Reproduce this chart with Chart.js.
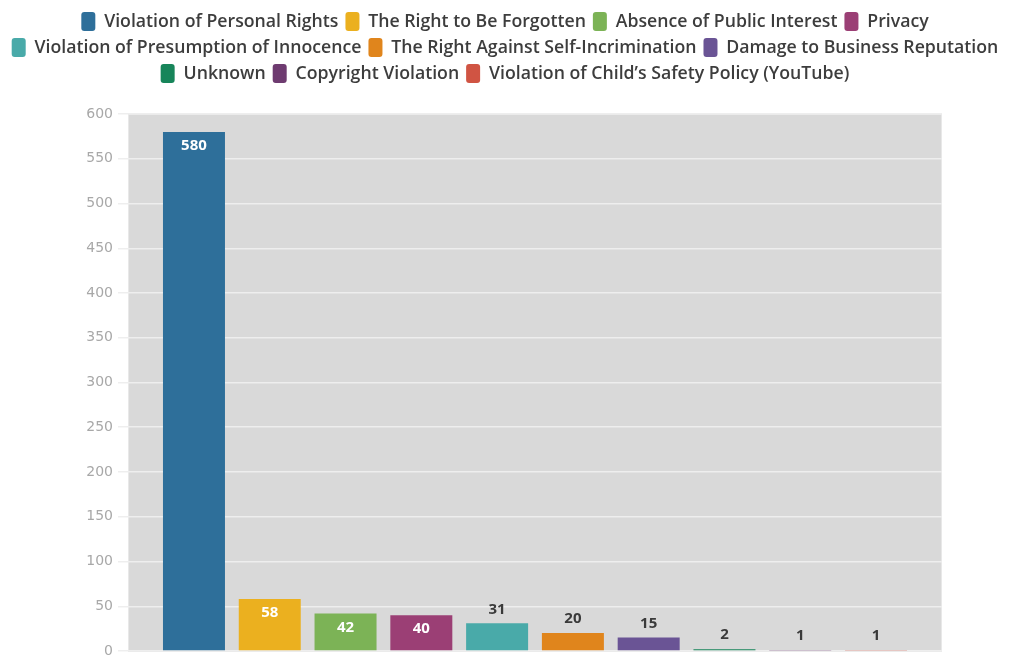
<!DOCTYPE html>
<html>
<head>
<meta charset="utf-8">
<script src="https://cdn.jsdelivr.net/npm/chart.js@4.4.1/dist/chart.umd.min.js"></script>
<style>
html,body{margin:0;padding:0;background:#fff;}
#wrap{width:1010px;height:657px;}
</style>
</head>
<body>
<div id="wrap"><canvas id="c" width="1010" height="657"></canvas></div>
<script>
const categories = [
  "Violation of Personal Rights",
  "The Right to Be Forgotten",
  "Absence of Public Interest",
  "Privacy",
  "Violation of Presumption of Innocence",
  "The Right Against Self-Incrimination",
  "Damage to Business Reputation",
  "Unknown",
  "Copyright Violation",
  "Violation of Child\u2019s Safety Policy (YouTube)"
];
const values = [580, 58, 42, 40, 31, 20, 15, 2, 1, 1];
const colors = ["#2e6f9a", "#ebb01f", "#7cb356", "#9b3f75", "#49aaa9", "#e0851c", "#6a5495", "#17855a", "#6e3b70", "#d05443"];
const yTicks = [0, 50, 100, 150, 200, 250, 300, 350, 400, 450, 500, 550, 600];

const datasets = categories.map((name, i) => ({
  label: name,
  data: [values[i]],
  backgroundColor: colors[i],
  borderWidth: 0,
  categoryPercentage: 0.931,
  barPercentage: 0.818
}));

const legendSpace = {
  id: 'legendSpace',
  beforeInit(chart) {
    const orig = chart.legend.fit;
    chart.legend.fit = function () {
      orig.call(this);
      this.height += 21;
    };
  }
};

const plotBg = {
  id: 'plotBg',
  beforeDraw(chart) {
    const {ctx, chartArea: a} = chart;
    ctx.save();
    ctx.fillStyle = '#d9d9d9';
    ctx.fillRect(a.left, a.top, a.right - a.left, a.bottom - a.top);
    ctx.strokeStyle = '#e8e8e8';
    ctx.lineWidth = 1;
    ctx.strokeRect(a.left + 0.5, a.top + 0.5, a.right - a.left - 1, a.bottom - a.top);
    ctx.restore();
  }
};

const valueLabels = {
  id: 'valueLabels',
  afterDatasetsDraw(chart) {
    const ctx = chart.ctx;
    ctx.save();
    ctx.font = 'bold 15px "Open Sans", Lato, sans-serif';
    ctx.textAlign = 'center';
    ctx.textBaseline = 'middle';
    chart.data.datasets.forEach((ds, i) => {
      const meta = chart.getDatasetMeta(i);
      meta.data.forEach((bar, j) => {
        const v = ds.data[j];
        const h = bar.base - bar.y;
        if (h > 30) {
          ctx.fillStyle = '#ffffff';
          ctx.fillText(String(v), bar.x, bar.y + 14);
        } else {
          ctx.fillStyle = '#3a3a3a';
          ctx.fillText(String(v), bar.x, bar.y - 14);
        }
      });
    });
    ctx.restore();
  }
};

new Chart(document.getElementById('c'), {
  type: 'bar',
  data: { labels: [''], datasets },
  plugins: [legendSpace, plotBg, valueLabels],
  options: {
    responsive: false,
    animation: false,
    layout: { padding: { left: 0, right: 0, top: 5, bottom: 6 } },
    plugins: {
      legend: {
        position: 'top',
        labels: {
          boxWidth: 14,
          boxHeight: 19,
          useBorderRadius: true,
          borderRadius: 3,
          padding: 7,
          color: '#3d3d3d',
          font: { family: '"Open Sans", Lato, sans-serif', size: 17.7, weight: '600' }
        }
      },
      tooltip: { enabled: false }
    },
    scales: {
      x: { display: false },
      y: {
        min: 0,
        max: 600,
        afterBuildTicks(scale) { scale.ticks = yTicks.map(v => ({ value: v })); },
        afterFit(scale) { scale.width = 128; scale.paddingTop = 0; scale.paddingBottom = 0; },
        border: { display: false },
        grid: { color: '#eeeeee', lineWidth: 1.5, tickLength: 10 },
        ticks: {
          padding: 5,
          color: '#a8a8a8',
          font: { family: '"DejaVu Sans", sans-serif', size: 14 }
        }
      },
      yRight: {
        position: 'right',
        min: 0,
        max: 600,
        afterFit(scale) { scale.width = 68; scale.paddingTop = 0; scale.paddingBottom = 0; },
        border: { display: false },
        grid: { display: false },
        ticks: { display: false }
      }
    }
  }
});
</script>
</body>
</html>
